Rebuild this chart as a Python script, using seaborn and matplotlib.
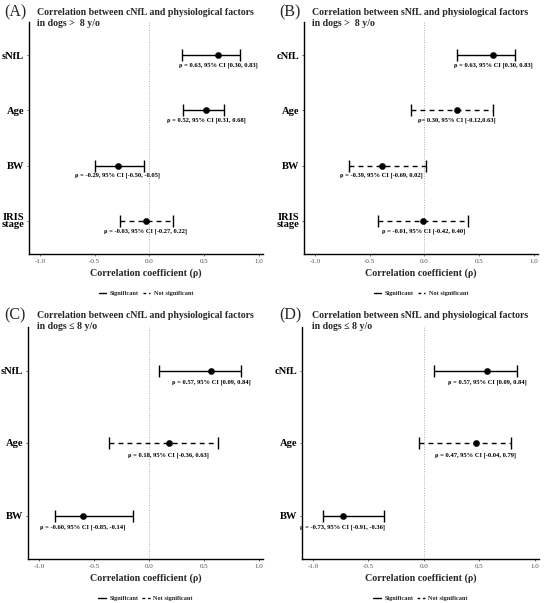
import matplotlib
matplotlib.use("Agg")
import matplotlib.pyplot as plt
from matplotlib.lines import Line2D
import pandas as pd
import seaborn as sns

# panel A: cNfL, dogs > 8 y/o
a_factors = ["sNfL", "Age", "BW", "IRIS\nstage"]
a_rho = [0.63, 0.52, -0.29, -0.03]
a_lo = [0.30, 0.31, -0.50, -0.27]
a_hi = [0.83, 0.68, -0.05, 0.22]
a_sig = [True, True, True, False]
a_text = [
    "ρ = 0.63, 95% CI [0.30, 0.83]",
    "ρ = 0.52, 95% CI [0.31, 0.68]",
    "ρ = -0.29, 95% CI [-0.50, -0.05]",
    "ρ = -0.03, 95% CI [-0.27, 0.22]",
]

# panel B: sNfL, dogs > 8 y/o
b_factors = ["cNfL", "Age", "BW", "IRIS\nstage"]
b_rho = [0.63, 0.30, -0.39, -0.01]
b_lo = [0.30, -0.12, -0.69, -0.42]
b_hi = [0.83, 0.63, 0.02, 0.40]
b_sig = [True, False, False, False]
b_text = [
    "ρ = 0.63, 95% CI [0.30, 0.83]",
    "ρ= 0.30, 95% CI [-0.12,0.63]",
    "ρ = -0.39, 95% CI [-0.69, 0.02]",
    "ρ = -0.01, 95% CI [-0.42, 0.40]",
]

# panel C: cNfL, dogs <= 8 y/o
c_factors = ["sNfL", "Age", "BW"]
c_rho = [0.57, 0.18, -0.60]
c_lo = [0.09, -0.36, -0.85]
c_hi = [0.84, 0.63, -0.14]
c_sig = [True, False, True]
c_text = [
    "ρ = 0.57, 95% CI [0.09, 0.84]",
    "ρ = 0.18, 95% CI [-0.36, 0.63]",
    "ρ = -0.60, 95% CI [-0.85, -0.14]",
]

# panel D: sNfL, dogs <= 8 y/o
d_factors = ["cNfL", "Age", "BW"]
d_rho = [0.57, 0.47, -0.73]
d_lo = [0.09, -0.04, -0.91]
d_hi = [0.84, 0.79, -0.36]
d_sig = [True, False, True]
d_text = [
    "ρ = 0.57, 95% CI [0.09, 0.84]",
    "ρ = 0.47, 95% CI [-0.04, 0.79]",
    "ρ = -0.73, 95% CI [-0.91, -0.36]",
]

x_ticks = [-1.0, -0.5, 0.0, 0.5, 1.0]

sns.set_theme(style="white")
plt.rcParams["font.family"] = ["Liberation Serif", "DejaVu Serif"]

W, H = 550, 603
fig = plt.figure(figsize=(W / 100, H / 100), dpi=100)


def box(left, top, right, bottom):
    return [left / W, 1 - bottom / H, (right - left) / W, (bottom - top) / H]


def forest(rect, letter, title, factors, rho, lo, hi, sig, texts, letter_xy):
    ax = fig.add_axes(rect)
    n = len(factors)
    df = pd.DataFrame({
        "factor": factors, "rho": rho, "lo": lo, "hi": hi, "sig": sig, "text": texts,
        "pos": list(range(n, 0, -1)),
    })
    ax.axvline(0, color="#b0b0b0", lw=0.7, ls=(0, (1, 1.5)), zorder=0)
    for _, r in df.iterrows():
        ls = "-" if r["sig"] else (0, (3.5, 3))
        ax.hlines(r["pos"], r["lo"], r["hi"], color="black", lw=1.0, ls=ls)
        ax.plot([r["lo"], r["hi"]], [r["pos"], r["pos"]], ls="none", marker="|",
                ms=8, mew=1.0, color="black")
        ax.text(r["rho"], r["pos"] - 0.13, r["text"], ha="center", va="top",
                fontsize=4.7, fontweight="bold", color="black")
    sns.scatterplot(data=df, x="rho", y="pos", ax=ax, color="black", s=20,
                    edgecolor="black", linewidth=0.3, zorder=3, legend=False)
    ax.set_xlim(-1.1, 1.04)
    ax.set_ylim(0.4, n + 0.6)
    ax.set_xticks(x_ticks)
    ax.set_xticklabels([f"{t:.1f}" for t in x_ticks], fontsize=5, color="#4d4d4d")
    ax.set_yticks(df["pos"])
    ax.set_yticklabels(df["factor"], fontsize=7.6, fontweight="bold", color="black",
                       linespacing=0.75)
    ax.tick_params(axis="both", length=1.5, width=0.5, pad=2, color="#333333")
    ax.tick_params(axis="both", which="both", bottom=True, left=True)
    ax.set_xlabel("Correlation coefficient (ρ)", fontsize=7.2, fontweight="bold",
                  labelpad=3)
    ax.set_ylabel("")
    for s in ["top", "right"]:
        ax.spines[s].set_visible(False)
    for s in ["left", "bottom"]:
        ax.spines[s].set_color("black")
        ax.spines[s].set_linewidth(1.0)
    handles = [
        Line2D([0], [0], color="black", lw=1.0, ls="-"),
        Line2D([0], [0], color="black", lw=1.0, ls=(0, (2, 2))),
    ]
    ax.legend(handles, ["Significant", "Not significant"], loc="upper center",
              bbox_to_anchor=(0.5, -0.135), ncol=2, frameon=False,
              prop={"family": "Liberation Serif", "weight": "bold", "size": 4.5},
              handlelength=1.2, handletextpad=0.6, columnspacing=0.6)
    fig.text(letter_xy[0] / W, 1 - letter_xy[1] / H, letter, fontsize=11.5,
             ha="left", va="center")
    fig.text((letter_xy[0] + 33) / W, 1 - (letter_xy[1] + 6) / H, title,
             fontsize=7.1, fontweight="bold", ha="left", va="center",
             linespacing=1.15)
    return ax


forest(box(29, 22, 263, 254), "(A)",
       "Correlation between cNfL and physiological factors\nin dogs >  8 y/o",
       a_factors, a_rho, a_lo, a_hi, a_sig, a_text, (4, 12))
forest(box(304, 22, 538, 254), "(B)",
       "Correlation between sNfL and physiological factors\nin dogs >  8 y/o",
       b_factors, b_rho, b_lo, b_hi, b_sig, b_text, (279, 12))
forest(box(28, 327, 263, 559), "(C)",
       "Correlation between cNfL and physiological factors\nin dogs ≤ 8 y/o",
       c_factors, c_rho, c_lo, c_hi, c_sig, c_text, (4, 315))
forest(box(302, 327, 539, 559), "(D)",
       "Correlation between sNfL and physiological factors\nin dogs ≤ 8 y/o",
       d_factors, d_rho, d_lo, d_hi, d_sig, d_text, (279, 315))

fig.savefig("out.png", dpi=100, facecolor="white")
